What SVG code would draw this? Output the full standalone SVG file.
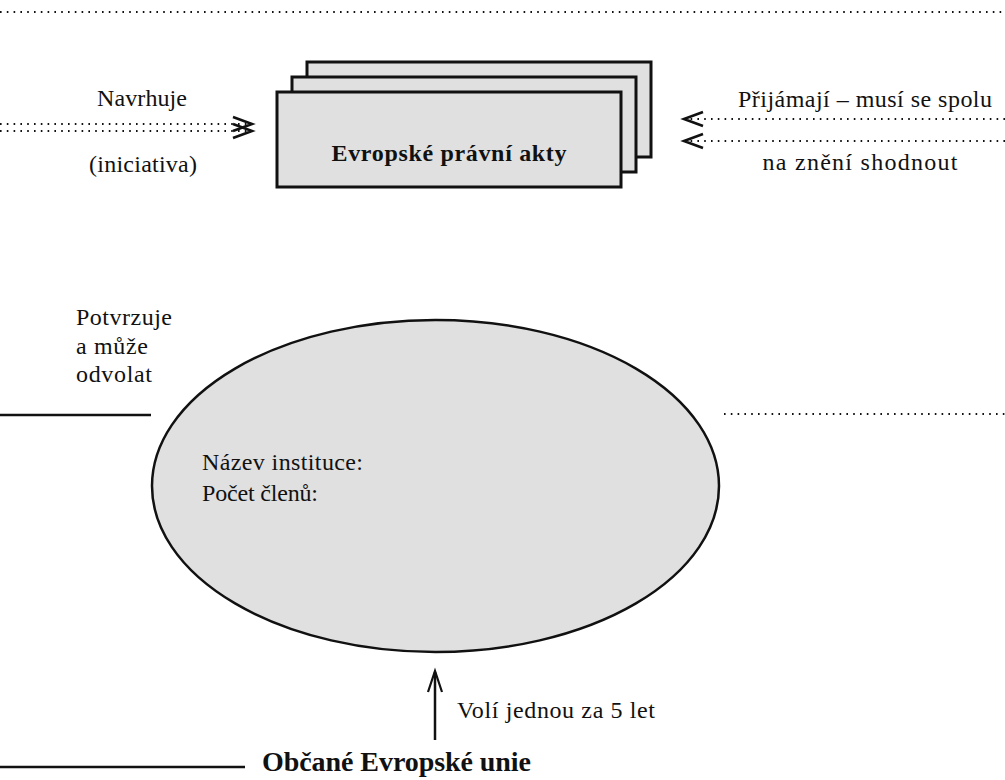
<svg xmlns="http://www.w3.org/2000/svg" width="1005" height="780" viewBox="0 0 1005 780">
<style>
.t{font-family:"Liberation Serif",serif;font-size:24px;fill:#111}
.b{font-family:"Liberation Serif",serif;font-weight:bold;fill:#111}
.dot{stroke:#111;stroke-width:2;stroke-dasharray:1.6 5.2;fill:none}
.sol{stroke:#111;stroke-width:2.5;fill:none}
.box{fill:#e0e0e0;stroke:#111;stroke-width:3}
</style>
<defs>
<marker id="chev" markerUnits="userSpaceOnUse" markerWidth="24" markerHeight="18" refX="19" refY="7" orient="auto" overflow="visible">
<path d="M0,0 L19,7 L0,14" fill="none" stroke="#111" stroke-width="2.6"/>
</marker>
</defs>
<rect width="1005" height="780" fill="#fff"/>
<g id="connectors">
<line class="dot" x1="0" y1="12" x2="1005" y2="12"/>
<path class="dot" d="M0,124 L252,124" marker-end="url(#chev)"/>
<path class="dot" d="M0,131 L252,131" marker-end="url(#chev)"/>
<path class="dot" d="M1005,119 L684,119" marker-end="url(#chev)"/>
<path class="dot" d="M1005,141 L684,141" marker-end="url(#chev)"/>
<line class="dot" x1="724" y1="414" x2="1005" y2="414"/>
<line class="sol" x1="0" y1="415" x2="151" y2="415"/>
<line class="sol" x1="0" y1="767" x2="245" y2="767"/>
<path class="sol" d="M435,740 L435,672" stroke-width="2.2"/>
<path d="M428,692 L435,671 L442,692" fill="none" stroke="#111" stroke-width="2.2"/>
</g>
<g id="labels">
<text class="t" x="142" y="106" text-anchor="middle" textLength="90">Navrhuje</text>
<text class="t" x="143" y="172" text-anchor="middle" textLength="108">(iniciativa)</text>
<text class="t" x="865" y="107" text-anchor="middle" textLength="254">Přijámají – musí se spolu</text>
<text class="t" x="860" y="170" text-anchor="middle" textLength="195">na znění shodnout</text>
<text class="t" x="76" y="325" textLength="96">Potvrzuje</text>
<text class="t" x="76" y="354" textLength="72">a může</text>
<text class="t" x="76" y="382" textLength="76">odvolat</text>
<text class="t" x="457" y="718" textLength="198">Volí jednou za 5 let</text>
</g>
<g id="acts">
<rect class="box" x="307" y="62" width="344" height="95"/>
<rect class="box" x="292" y="77" width="344" height="95"/>
<rect class="box" x="277" y="92" width="344" height="95"/>
<text class="b" x="449" y="161" text-anchor="middle" font-size="24" textLength="235">Evropské právní akty</text>
</g>
<g id="institution">
<ellipse cx="435.5" cy="486" rx="283.5" ry="166" fill="#e0e0e0" stroke="#111" stroke-width="2.5"/>
<text class="t" x="202" y="470" textLength="161">Název instituce:</text>
<text class="t" x="202" y="501" textLength="116">Počet členů:</text>
</g>
<g id="citizens">
<text class="b" x="262" y="771" font-size="28" textLength="269">Občané Evropské unie</text>
</g>
</svg>
